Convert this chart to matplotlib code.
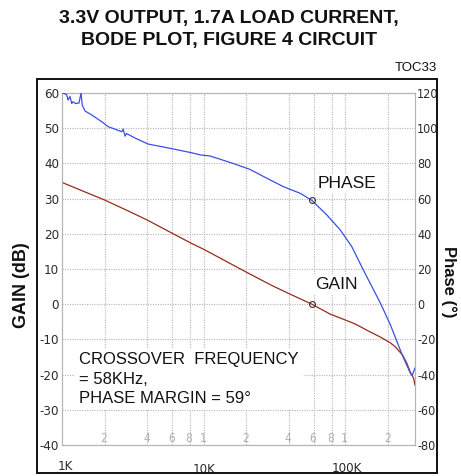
import matplotlib
matplotlib.use("Agg")
import matplotlib.pyplot as plt
from matplotlib import font_manager
from matplotlib.font_manager import FontProperties
from matplotlib.patches import Rectangle
import matplotlib.transforms as mtransforms

plt.rcParams['axes.unicode_minus'] = False
MAIN = 'Liberation Sans'


def find_narrow():
    ttf = font_manager.fontManager.ttflist
    for key in ('Liberation Sans Narrow', 'Arial Narrow'):
        for f in ttf:
            if f.name == key and f.weight in (400, 'normal', 'regular') and f.style == 'normal':
                return f.fname
    for f in ttf:
        if f.name == 'DejaVu Sans' and 'Condensed' in f.fname and 'Bold' not in f.fname \
                and 'Oblique' not in f.fname:
            return f.fname
    for f in ttf:
        if ('Condensed' in f.name or 'Narrow' in f.name or 'Condensed' in f.fname) \
                and 'Bold' not in f.fname and 'Italic' not in f.fname and 'Oblique' not in f.fname:
            return f.fname
    return None


NARROW_FILE = find_narrow()


def nfont(size):
    if NARROW_FILE:
        return FontProperties(fname=NARROW_FILE, size=size)
    return FontProperties(family=MAIN, size=size * 0.9)


# ---------------- data ----------------
freq_gain = [1000, 1100, 1300, 1600, 2000, 3000, 4000, 6100, 8000, 10000, 15000, 20000,
             30000, 40000, 58000, 78000, 100000, 117000, 150000, 176000, 208000, 225000,
             253000, 271000, 287000, 303000, 310000]
gain_db = [34.6, 33.9, 32.7, 31.2, 29.6, 26.3, 23.9, 20.0, 17.5, 15.6, 11.8, 9.1,
           5.4, 3.0, 0.0, -2.8, -4.5, -5.6, -7.9, -9.3, -11.0, -12.1,
           -14.4, -16.7, -19.3, -21.0, -23.0]

freq_phase = [1000, 1016, 1079, 1102, 1139, 1171, 1196, 1250, 1318, 1362, 1391, 1454,
              1621, 1908, 2113, 2450, 2642, 2700, 2787, 2850, 3277, 4050, 5050, 6280,
              8250, 9500, 11100, 16100, 21200, 28000, 36500, 48000, 58000, 74000,
              92000, 100000, 111000, 134000, 145000, 177000, 208000, 252000, 288000,
              296000, 310000]
phase_deg = [120, 120, 119, 116, 118, 114, 115, 114, 114.3, 120, 113, 109.8,
             107.5, 103.7, 100.9, 99, 98, 99.5, 95.5, 97, 94.4, 91, 89.5, 88,
             86, 84.8, 84.2, 80.0, 76.6, 71.5, 66.8, 63, 59, 50.7,
             42.2, 38, 32.7, 19.4, 14.0, 0.5, -11.8, -28.9, -39.3,
             -40.5, -36.3]

crossover_freq = 58000
crossover_gain = 0
crossover_phase = 59

gain_ticks = [60, 50, 40, 30, 20, 10, 0, -10, -20, -30, -40]
gain_labels = ['60', '50', '40', '30', '20', '10', '0', '-10', '-20', '-30', '-40']
phase_ticks = [120, 100, 80, 60, 40, 20, 0, -20, -40, -60, -80]
phase_labels = ['120', '100', '80', '60', '40', '20', '0', '-20', '-40', '-60', '-80']

grid_freqs = [2e3, 4e3, 6e3, 8e3, 1e4, 2e4, 4e4, 6e4, 8e4, 1e5, 2e5]
grid_labels = ['2', '4', '6', '8', '1', '2', '4', '6', '8', '1', '2']
decade_freqs = [1e3, 1e4, 1e5]
decade_labels = ['1K', '10K', '100K']

# ---------------- figure ----------------
W, H = 461, 476
fig = plt.figure(figsize=(W / 100, H / 100), dpi=100)

L, R, T, B = 62, 415, 93, 445
ax = fig.add_axes([L / W, 1 - B / H, (R - L) / W, (B - T) / H])
ax.set_xscale('log')
ax.set_xlim(1000, 310000)
ax.set_ylim(-40, 60)
ax2 = ax.twinx()
ax2.set_ylim(-80, 120)
ax2.set_xlim(1000, 310000)

gridc = '#b4b4b4'
for a in (ax, ax2):
    for s in a.spines.values():
        s.set_color(gridc)
        s.set_linestyle((0, (1, 1.2)))
        s.set_linewidth(0.8)

ax.set_xticks(grid_freqs)
ax.set_xticklabels([''] * len(grid_freqs))
ax.set_xticks([], minor=True)
ax.grid(True, which='major', color=gridc, linestyle=(0, (1, 1.2)), linewidth=0.8)
ax.set_axisbelow(True)

ax.set_yticks(gain_ticks)
ax.set_yticklabels(gain_labels, fontproperties=nfont(9.5), color='#2a2a2a')
ax.tick_params(axis='both', length=0)
ax.tick_params(axis='y', pad=2)
ax2.set_yticks(phase_ticks)
ax2.set_yticklabels(phase_labels, fontproperties=nfont(9), color='#2a2a2a')
ax2.tick_params(axis='y', length=0, pad=1.5)

# curves
ax.plot(freq_gain, gain_db, color='#9a2a1e', linewidth=0.9, zorder=3)
ax2.plot(freq_phase, phase_deg, color='#3b4fe6', linewidth=0.9, zorder=3)
ax.plot([crossover_freq], [crossover_gain], marker='o', markersize=4.2, mfc='none',
        mec='#333333', mew=0.8, zorder=5)
ax2.plot([crossover_freq], [crossover_phase], marker='o', markersize=4.2, mfc='none',
         mec='#333333', mew=0.8, zorder=5)

# minor grid labels
for f, lab in zip(grid_freqs, grid_labels):
    ax.text(f * 0.985, -40, lab, ha='center', va='bottom', fontproperties=nfont(8.5),
            color='#b0b0b0', zorder=2)

# decade labels
trans = mtransforms.blended_transform_factory(ax.transData, ax.transAxes)
for f, lab, yy in zip(decade_freqs, decade_labels, [-0.060, -0.071, -0.066]):
    xf = f * (1.05 if f == 1e3 else (1.0 if f == 1e4 else 1.03))
    ax.text(xf, yy, lab, transform=trans, ha='center', va='center',
            fontproperties=nfont(9.5), color='#2a2a2a')

# annotations
ax.text(103000, 34.4, 'PHASE', ha='center', va='center', fontsize=12.5,
        fontfamily=MAIN, color='#111111', zorder=4,
        bbox=dict(facecolor='white', edgecolor='none', pad=1.5))
ax.text(86000, 5.7, 'GAIN', ha='center', va='center', fontsize=12.5,
        fontfamily=MAIN, color='#111111', zorder=4,
        bbox=dict(facecolor='white', edgecolor='none', pad=1.5))
ax.text(1320, -21.25, 'CROSSOVER  FREQUENCY\n= 58KHz,\nPHASE MARGIN = 59°',
        ha='left', va='center', fontsize=12, fontfamily=MAIN, color='#111111',
        linespacing=1.35, zorder=4,
        bbox=dict(facecolor='white', edgecolor='none', pad=3))

# outer frame
fig.patches.append(Rectangle((37 / W, 1 - 473 / H), 400 / W, 394 / H,
                             transform=fig.transFigure, fill=False,
                             edgecolor='#111111', linewidth=1.4))

# titles and axis labels
fig.text(229 / W, 1 - 18.5 / H, '3.3V OUTPUT, 1.7A LOAD CURRENT,', ha='center',
         va='center', fontsize=14, fontweight='bold', fontfamily=MAIN, color='#111111')
fig.text(229 / W, 1 - 40.5 / H, 'BODE PLOT, FIGURE 4 CIRCUIT', ha='center',
         va='center', fontsize=14, fontweight='bold', fontfamily=MAIN, color='#111111')
fig.text(437 / W, 1 - 68 / H, 'TOC33', ha='right', va='center', fontsize=9.5,
         fontfamily=MAIN, color='#111111')
fig.text(21.5 / W, 1 - 285 / H, 'GAIN (dB)', ha='center', va='center', rotation=90,
         fontsize=13, fontweight='bold', fontfamily=MAIN, color='#111111')
fig.text(449 / W, 1 - 282 / H, 'Phase (°)', ha='center', va='center', rotation=270,
         fontsize=12, fontweight='bold', fontfamily=MAIN, color='#111111')

fig.savefig('out.png', dpi=100)
